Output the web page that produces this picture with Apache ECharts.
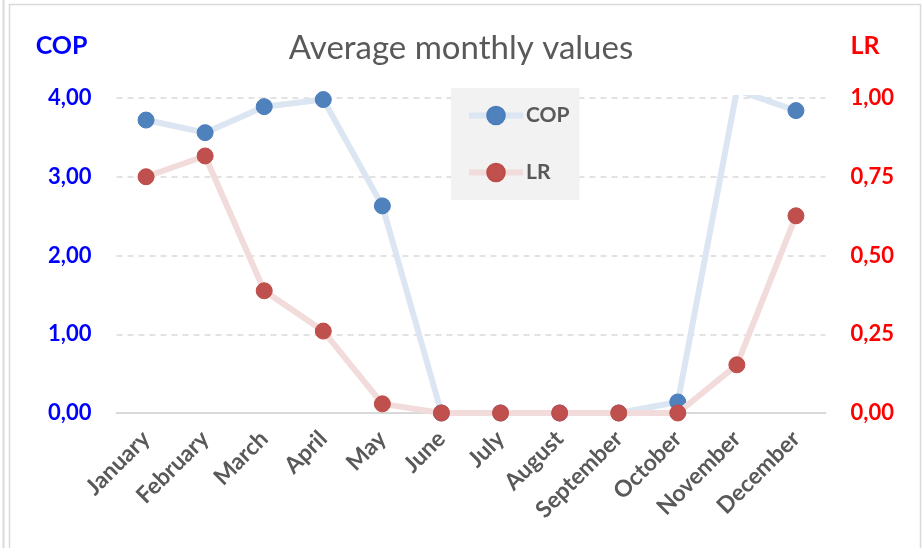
<!DOCTYPE html>
<html>
<head>
<meta charset="utf-8">
<script src="https://cdn.jsdelivr.net/npm/echarts@6/dist/echarts.min.js"></script>
<style>
  html, body { margin: 0; padding: 0; background: #ffffff; }
  #chart { width: 922px; height: 548px; }
</style>
</head>
<body>
<div id="chart"></div>
<script>
// Monthly averages
const months = ['January', 'February', 'March', 'April', 'May', 'June', 'July',
  'August', 'September', 'October', 'November', 'December'];
const copValues = [3.72, 3.56, 3.89, 3.98, 2.63, 0, 0, 0, 0, 0.14, 4.1, 3.84];
const lrValues = [0.75, 0.816, 0.388, 0.26, 0.029, 0, 0, 0, 0, 0, 0.153, 0.626];
const copTicks = { min: 0, max: 4, interval: 1 };
const lrTicks = { min: 0, max: 1, interval: 0.25 };

const FONT = 'Lato, "Open Sans", sans-serif';
const comma = v => v.toFixed(2).replace('.', ',');

const chart = echarts.init(document.getElementById('chart'));
chart.setOption({
  animation: false,
  textStyle: { fontFamily: FONT },
  title: {
    text: 'Average monthly values',
    left: 'center',
    top: 27,
    textStyle: { fontFamily: FONT, fontSize: 33, fontWeight: 'normal', color: '#595959' }
  },
  graphic: [{
    type: 'line',
    shape: { x1: 3.5, y1: 0, x2: 3.5, y2: 548 },
    style: { stroke: '#d9d9d9', lineWidth: 2 },
    silent: true
  }, {
    type: 'rect',
    shape: { x: 9.5, y: 4.5, width: 911, height: 560 },
    style: { fill: 'none', stroke: '#d9d9d9', lineWidth: 1.5 },
    silent: true
  }],
  legend: {
    orient: 'vertical',
    left: 451,
    top: 88,
    padding: [17, 10, 17, 15],
    itemGap: 36,
    itemWidth: 54,
    itemHeight: 22,
    backgroundColor: '#f2f2f2',
    textStyle: { fontFamily: FONT, fontSize: 21, fontWeight: 'bold', color: '#595959', padding: [0, 0, 0, -2] },
    data: [
      { name: 'COP', lineStyle: { width: 6 } },
      { name: 'LR', lineStyle: { width: 6 } }
    ]
  },
  grid: { left: 116.5, right: 96.5, top: 98, bottom: 135 },
  xAxis: {
    type: 'category',
    data: months,
    boundaryGap: true,
    axisLine: { lineStyle: { color: '#d9d9d9', width: 2 } },
    axisTick: { show: false },
    axisLabel: {
      rotate: 45,
      interval: 0,
      margin: 22,
      fontFamily: FONT,
      fontSize: 23,
      fontWeight: 'bold',
      color: '#595959'
    }
  },
  yAxis: [{
    type: 'value',
    min: copTicks.min, max: copTicks.max, interval: copTicks.interval,
    name: 'COP',
    nameLocation: 'end',
    nameGap: 40,
    nameTextStyle: { fontFamily: FONT, fontSize: 25, fontWeight: 'bold', color: '#0000ff', align: 'right', padding: [0, 29, 0, 0] },
    axisLine: { show: false },
    axisTick: { show: false },
    splitLine: { lineStyle: { color: '#d9d9d9', type: [6, 5], width: 1.5 } },
    axisLabel: {
      margin: 25,
      fontFamily: FONT, fontSize: 22, fontWeight: 'bold', color: '#0000ff',
      formatter: comma
    }
  }, {
    type: 'value',
    min: lrTicks.min, max: lrTicks.max, interval: lrTicks.interval,
    name: 'LR',
    nameLocation: 'end',
    nameGap: 40,
    nameTextStyle: { fontFamily: FONT, fontSize: 25, fontWeight: 'bold', color: '#ff0000', align: 'left', padding: [0, 0, 0, 25] },
    axisLine: { show: false },
    axisTick: { show: false },
    splitLine: { show: false },
    axisLabel: {
      margin: 25,
      fontFamily: FONT, fontSize: 22, fontWeight: 'bold', color: '#ff0000',
      formatter: comma
    }
  }],
  series: [{
    name: 'COP',
    type: 'line',
    yAxisIndex: 0,
    data: copValues,
    clip: true,
    symbol: 'circle',
    symbolSize: 16,
    lineStyle: { color: '#dce6f2', width: 6 },
    itemStyle: { color: '#4f81bd', borderColor: '#4a7ebb', borderWidth: 1 },
    z: 2
  }, {
    name: 'LR',
    type: 'line',
    yAxisIndex: 1,
    data: lrValues,
    clip: true,
    symbol: 'circle',
    symbolSize: 16,
    lineStyle: { color: '#f2dcdb', width: 6 },
    itemStyle: { color: '#c0504d', borderColor: '#be4b48', borderWidth: 1 },
    z: 3
  }]
});
</script>
</body>
</html>
